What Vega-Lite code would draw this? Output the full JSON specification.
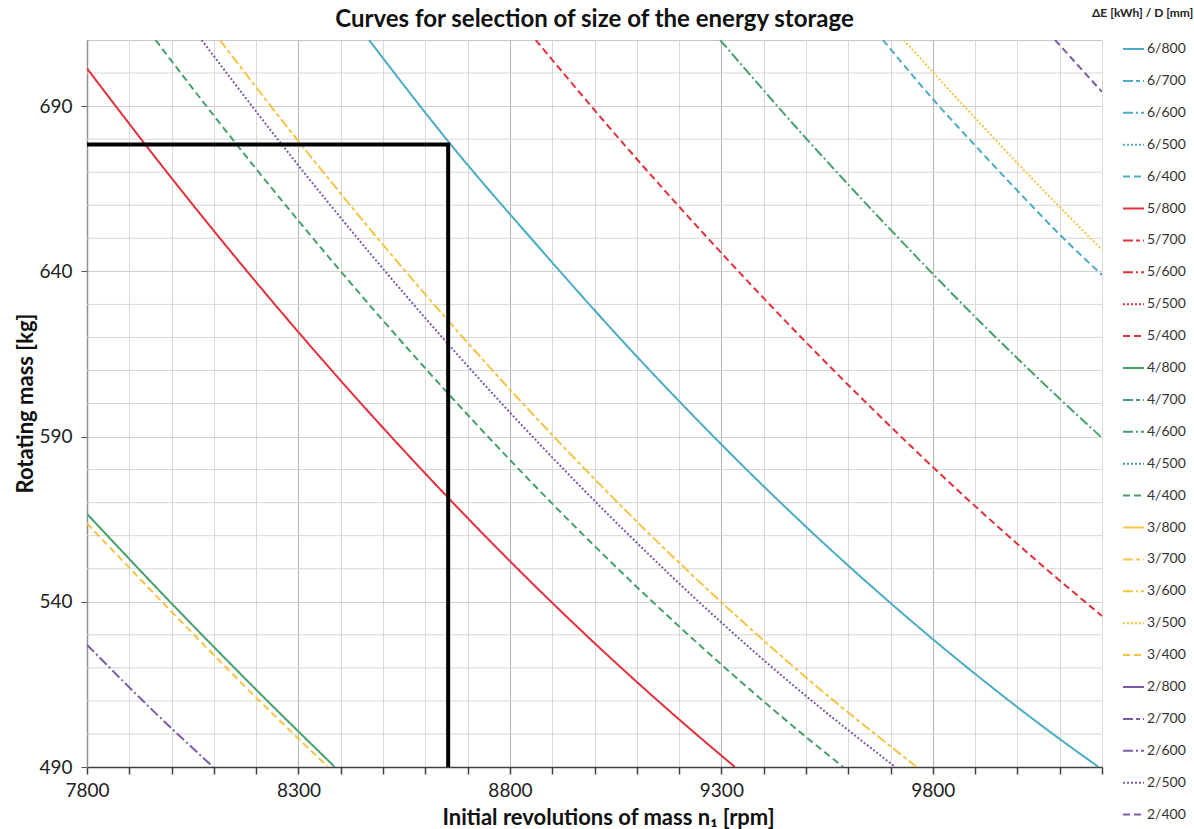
{
  "$schema": "https://vega.github.io/schema/vega-lite/v6.json",
  "width": 1015,
  "height": 727,
  "autosize": {"type": "none"},
  "padding": {"left": 87, "top": 40, "right": 92, "bottom": 62},
  "background": "white",
  "config": {
    "font": "Lato",
    "view": {"stroke": "#c8c8c8", "strokeWidth": 1}
  },
  "title": {
    "text": "Curves for selection of size of the energy storage",
    "font": "Lato",
    "fontSize": 24,
    "fontWeight": "bold",
    "color": "#111111",
    "anchor": "middle",
    "frame": "group",
    "baseline": "alphabetic",
    "offset": -24,
    "dy": 19
  },
  "layer": [
    {
      "data": {
        "values": [
          {"g": 500}, {"g": 510}, {"g": 520}, {"g": 530}, {"g": 550}, {"g": 560}, {"g": 570}, {"g": 580},
          {"g": 600}, {"g": 610}, {"g": 620}, {"g": 630}, {"g": 650}, {"g": 660}, {"g": 670}, {"g": 680}, {"g": 700}
        ]
      },
      "mark": {"type": "rule", "color": "#d6d6d6", "strokeWidth": 1},
      "encoding": {
        "y": {"field": "g", "type": "quantitative"}
      }
    },
    {
      "data": {
        "values": [
          {"series": "5/800", "n": 7800, "m": 701.4}, {"series": "5/800", "n": 8000, "m": 668.2}, {"series": "5/800", "n": 8200, "m": 636.7}, {"series": "5/800", "n": 8400, "m": 606.9}, {"series": "5/800", "n": 8600, "m": 578.8}, {"series": "5/800", "n": 8800, "m": 552.3}, {"series": "5/800", "n": 9000, "m": 527.5}, {"series": "5/800", "n": 9200, "m": 504.4}, {"series": "5/800", "n": 9332, "m": 490},
          {"series": "4/400", "n": 7962, "m": 710}, {"series": "4/400", "n": 8100, "m": 687.1}, {"series": "4/400", "n": 8300, "m": 655.3}, {"series": "4/400", "n": 8500, "m": 625.1}, {"series": "4/400", "n": 8700, "m": 596.6}, {"series": "4/400", "n": 8900, "m": 569.7}, {"series": "4/400", "n": 9100, "m": 544.5}, {"series": "4/400", "n": 9300, "m": 521}, {"series": "4/400", "n": 9500, "m": 499.1}, {"series": "4/400", "n": 9588, "m": 490},
          {"series": "2/500", "n": 8071, "m": 710}, {"series": "2/500", "n": 8271, "m": 676.7}, {"series": "2/500", "n": 8471, "m": 645.2}, {"series": "2/500", "n": 8671, "m": 615.5}, {"series": "2/500", "n": 8871, "m": 587.6}, {"series": "2/500", "n": 9071, "m": 561.5}, {"series": "2/500", "n": 9271, "m": 537.1}, {"series": "2/500", "n": 9471, "m": 514.6}, {"series": "2/500", "n": 9711, "m": 490},
          {"series": "3/700", "n": 8114, "m": 710}, {"series": "3/700", "n": 8314, "m": 677.1}, {"series": "3/700", "n": 8514, "m": 645.9}, {"series": "3/700", "n": 8714, "m": 616.4}, {"series": "3/700", "n": 8914, "m": 588.6}, {"series": "3/700", "n": 9114, "m": 562.5}, {"series": "3/700", "n": 9314, "m": 538.2}, {"series": "3/700", "n": 9514, "m": 515.6}, {"series": "3/700", "n": 9762, "m": 490},
          {"series": "6/800", "n": 8467, "m": 710}, {"series": "6/800", "n": 8667, "m": 677.3}, {"series": "6/800", "n": 8867, "m": 647.5}, {"series": "6/800", "n": 9067, "m": 618.8}, {"series": "6/800", "n": 9267, "m": 591.9}, {"series": "6/800", "n": 9467, "m": 566.7}, {"series": "6/800", "n": 9667, "m": 543.3}, {"series": "6/800", "n": 9867, "m": 521.6}, {"series": "6/800", "n": 10067, "m": 501.6}, {"series": "6/800", "n": 10192, "m": 490},
          {"series": "5/400", "n": 8861, "m": 710}, {"series": "5/400", "n": 9061, "m": 679.7}, {"series": "5/400", "n": 9261, "m": 651}, {"series": "5/400", "n": 9461, "m": 623.7}, {"series": "5/400", "n": 9661, "m": 597.9}, {"series": "5/400", "n": 9861, "m": 573.5}, {"series": "5/400", "n": 10061, "m": 550.7}, {"series": "5/400", "n": 10200, "m": 535.7},
          {"series": "4/600", "n": 9297, "m": 710}, {"series": "4/600", "n": 9497, "m": 680.7}, {"series": "4/600", "n": 9697, "m": 653}, {"series": "4/600", "n": 9897, "m": 626.6}, {"series": "4/600", "n": 10097, "m": 601.8}, {"series": "4/600", "n": 10200, "m": 589.6},
          {"series": "6/400", "n": 9682, "m": 710}, {"series": "6/400", "n": 9801, "m": 692}, {"series": "6/400", "n": 9902, "m": 677.8}, {"series": "6/400", "n": 10003, "m": 664}, {"series": "6/400", "n": 10101, "m": 651}, {"series": "6/400", "n": 10200, "m": 638.9},
          {"series": "3/500", "n": 9731, "m": 710}, {"series": "3/500", "n": 9902, "m": 686.1}, {"series": "3/500", "n": 10101, "m": 659.3}, {"series": "3/500", "n": 10200, "m": 646.5},
          {"series": "2/400", "n": 10089, "m": 710}, {"series": "2/400", "n": 10200, "m": 694.3},
          {"series": "4/800", "n": 7800, "m": 566.6}, {"series": "4/800", "n": 8000, "m": 539.5}, {"series": "4/800", "n": 8200, "m": 513.4}, {"series": "4/800", "n": 8386, "m": 490},
          {"series": "3/400", "n": 7800, "m": 563.7}, {"series": "3/400", "n": 8000, "m": 537}, {"series": "3/400", "n": 8200, "m": 511}, {"series": "3/400", "n": 8370, "m": 490},
          {"series": "2/600", "n": 7800, "m": 527}, {"series": "2/600", "n": 7950, "m": 507.8}, {"series": "2/600", "n": 8098, "m": 490}
        ]
      },
      "mark": {"type": "line", "strokeWidth": 2, "clip": true, "interpolate": "monotone"},
      "encoding": {
        "x": {
          "field": "n", "type": "quantitative",
          "scale": {"domain": [7800, 10200], "nice": false, "zero": false},
          "axis": {
            "values": [7800, 7900, 8000, 8100, 8200, 8300, 8400, 8500, 8600, 8700, 8800, 8900, 9000, 9100, 9200, 9300, 9400, 9500, 9600, 9700, 9800, 9900, 10000, 10100, 10200],
            "format": "d",
            "labelExpr": "(datum.value - 7800) % 500 === 0 && datum.value < 10000 ? datum.label : ''",
            "labelOverlap": false,
            "grid": true,
            "gridColor": {"condition": {"test": "(datum.value - 7800) % 500 === 0", "value": "#b4b4b4"}, "value": "#d9d9d9"},
            "gridWidth": 1,
            "tickSize": 7,
            "tickColor": "#404040",
            "tickWidth": 1.5,
            "domainColor": "#404040",
            "domainWidth": 1.5,
            "labelFont": "Lato",
            "labelFontSize": 19,
            "labelColor": "#222222",
            "labelPadding": 7,
            "labelFlush": false,
            "title": "Initial revolutions of mass n₁ [rpm]",
            "titleFont": "Lato",
            "titleFontSize": 22,
            "titleFontWeight": "bold",
            "titleColor": "#111111",
            "titleX": 521,
            "titleY": 50,
            "titleBaseline": "middle",
            "titleAlign": "center"
          }
        },
        "y": {
          "field": "m", "type": "quantitative",
          "scale": {"domain": [490, 710], "nice": false, "zero": false},
          "axis": {
            "values": [490, 540, 590, 640, 690],
            "labelOverlap": false,
            "grid": true,
            "gridColor": "#d0d0d0",
            "gridWidth": 1,
            "tickSize": 6,
            "tickColor": "#555555",
            "domainColor": "#909090",
            "domainWidth": 1.5,
            "labelFont": "Lato",
            "labelFontSize": 19,
            "labelColor": "#222222",
            "labelPadding": 9,
            "labelFlush": false,
            "title": "Rotating mass [kg]",
            "titleFont": "Lato",
            "titleFontSize": 22,
            "titleFontWeight": "bold",
            "titleColor": "#111111",
            "titleX": -62,
            "titleY": 363,
            "titleBaseline": "middle",
            "titleAlign": "center",
            "titleAngle": -90
          }
        },
        "color": {
          "field": "series", "type": "nominal",
          "scale": {
            "domain": ["6/800", "6/700", "6/600", "6/500", "6/400", "5/800", "5/700", "5/600", "5/500", "5/400", "4/800", "4/700", "4/600", "4/500", "4/400", "3/800", "3/700", "3/600", "3/500", "3/400", "2/800", "2/700", "2/600", "2/500", "2/400"],
            "range": ["#4bacc6", "#4bacc6", "#4bacc6", "#4bacc6", "#4bacc6", "#e3313b", "#e3313b", "#e3313b", "#e3313b", "#e3313b", "#46a06c", "#46a06c", "#46a06c", "#46a06c", "#46a06c", "#f6c443", "#f6c443", "#f6c443", "#f6c443", "#f6c443", "#7b5ba8", "#7b5ba8", "#7b5ba8", "#7b5ba8", "#7b5ba8"]
          },
          "legend": {
            "title": "ΔE [kWh] / D [mm]",
            "orient": "none",
            "legendX": 1005,
            "legendY": -32,
            "padding": 0,
            "titleFont": "Lato",
            "titleFontSize": 12,
            "titleFontWeight": "bold",
            "titleColor": "#222222",
            "titlePadding": 17.5,
            "labelFont": "Lato",
            "labelFontSize": 14,
            "labelColor": "#333333",
            "labelOffset": 2,
            "symbolOffset": 30,
            "symbolType": "stroke",
            "symbolSize": 441,
            "symbolStrokeWidth": 2,
            "rowPadding": 12.9
          }
        },
        "strokeDash": {
          "field": "series", "type": "nominal",
          "scale": {
            "domain": ["6/800", "6/700", "6/600", "6/500", "6/400", "5/800", "5/700", "5/600", "5/500", "5/400", "4/800", "4/700", "4/600", "4/500", "4/400", "3/800", "3/700", "3/600", "3/500", "3/400", "2/800", "2/700", "2/600", "2/500", "2/400"],
            "range": [[1, 0], [10, 3, 4, 3], [10, 3, 2, 3], [2, 2], [7, 4], [1, 0], [10, 3, 4, 3], [10, 3, 2, 3], [2, 2], [7, 4], [1, 0], [10, 3, 4, 3], [10, 3, 2, 3], [2, 2], [7, 4], [1, 0], [10, 3, 4, 3], [10, 3, 2, 3], [2, 2], [7, 4], [1, 0], [10, 3, 4, 3], [10, 3, 2, 3], [2, 2], [7, 4]]
          },
          "legend": {"title": "ΔE [kWh] / D [mm]"}
        }
      }
    },
    {
      "data": {
        "values": [
          {"n": 7800, "m": 678.4, "o": 1},
          {"n": 8654, "m": 678.4, "o": 2},
          {"n": 8654, "m": 490, "o": 3}
        ]
      },
      "mark": {"type": "line", "color": "#000000", "strokeWidth": 4, "clip": true},
      "encoding": {
        "x": {"field": "n", "type": "quantitative"},
        "y": {"field": "m", "type": "quantitative"},
        "order": {"field": "o", "type": "quantitative"}
      }
    }
  ]
}
